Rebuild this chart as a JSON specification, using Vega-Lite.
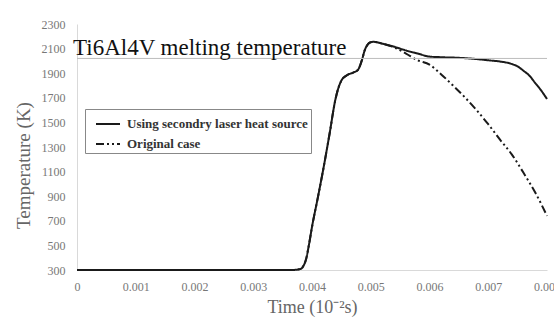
{
  "$schema": "https://vega.github.io/schema/vega-lite/v6.json",
  "autosize": "none",
  "width": 470,
  "height": 246,
  "padding": {"left": 77, "top": 24, "right": 7, "bottom": 56},
  "background": "white",
  "config": {
    "view": {"stroke": null},
    "font": "Liberation Serif",
    "axis": {"labelFont": "Liberation Serif", "titleFont": "Liberation Serif", "grid": false, "ticks": false, "domainColor": "#d9d9d9", "labelColor": "#777", "titleColor": "#666", "titleFontWeight": "normal", "labelOverlap": false, "labelSeparation": 0, "labelBound": false}
  },
  "datasets": {
    "curves": [
      {"t": 0, "temp": 300, "case": "Using secondry laser heat source"},
      {"t": 0.0036, "temp": 300, "case": "Using secondry laser heat source"},
      {"t": 0.0037, "temp": 301, "case": "Using secondry laser heat source"},
      {"t": 0.0038, "temp": 308, "case": "Using secondry laser heat source"},
      {"t": 0.00385, "temp": 330, "case": "Using secondry laser heat source"},
      {"t": 0.0039, "temp": 390, "case": "Using secondry laser heat source"},
      {"t": 0.00395, "temp": 510, "case": "Using secondry laser heat source"},
      {"t": 0.004, "temp": 650, "case": "Using secondry laser heat source"},
      {"t": 0.0041, "temp": 890, "case": "Using secondry laser heat source"},
      {"t": 0.0042, "temp": 1140, "case": "Using secondry laser heat source"},
      {"t": 0.0043, "temp": 1410, "case": "Using secondry laser heat source"},
      {"t": 0.0044, "temp": 1690, "case": "Using secondry laser heat source"},
      {"t": 0.0045, "temp": 1840, "case": "Using secondry laser heat source"},
      {"t": 0.0046, "temp": 1885, "case": "Using secondry laser heat source"},
      {"t": 0.0047, "temp": 1905, "case": "Using secondry laser heat source"},
      {"t": 0.00478, "temp": 1926, "case": "Using secondry laser heat source"},
      {"t": 0.00485, "temp": 2007, "case": "Using secondry laser heat source"},
      {"t": 0.0049, "temp": 2090, "case": "Using secondry laser heat source"},
      {"t": 0.005, "temp": 2152, "case": "Using secondry laser heat source"},
      {"t": 0.00505, "temp": 2155, "case": "Using secondry laser heat source"},
      {"t": 0.0052, "temp": 2140, "case": "Using secondry laser heat source"},
      {"t": 0.0054, "temp": 2115, "case": "Using secondry laser heat source"},
      {"t": 0.0056, "temp": 2085, "case": "Using secondry laser heat source"},
      {"t": 0.0058, "temp": 2060, "case": "Using secondry laser heat source"},
      {"t": 0.006, "temp": 2035, "case": "Using secondry laser heat source"},
      {"t": 0.0062, "temp": 2030, "case": "Using secondry laser heat source"},
      {"t": 0.0065, "temp": 2025, "case": "Using secondry laser heat source"},
      {"t": 0.0068, "temp": 2015, "case": "Using secondry laser heat source"},
      {"t": 0.007, "temp": 2005, "case": "Using secondry laser heat source"},
      {"t": 0.0072, "temp": 1995, "case": "Using secondry laser heat source"},
      {"t": 0.0074, "temp": 1975, "case": "Using secondry laser heat source"},
      {"t": 0.0075, "temp": 1955, "case": "Using secondry laser heat source"},
      {"t": 0.0076, "temp": 1920, "case": "Using secondry laser heat source"},
      {"t": 0.0077, "temp": 1880, "case": "Using secondry laser heat source"},
      {"t": 0.0078, "temp": 1820, "case": "Using secondry laser heat source"},
      {"t": 0.0079, "temp": 1760, "case": "Using secondry laser heat source"},
      {"t": 0.008, "temp": 1690, "case": "Using secondry laser heat source"},
      {"t": 0, "temp": 300, "case": "Original case"},
      {"t": 0.0036, "temp": 300, "case": "Original case"},
      {"t": 0.0037, "temp": 301, "case": "Original case"},
      {"t": 0.0038, "temp": 308, "case": "Original case"},
      {"t": 0.00385, "temp": 330, "case": "Original case"},
      {"t": 0.0039, "temp": 390, "case": "Original case"},
      {"t": 0.00395, "temp": 510, "case": "Original case"},
      {"t": 0.004, "temp": 650, "case": "Original case"},
      {"t": 0.0041, "temp": 890, "case": "Original case"},
      {"t": 0.0042, "temp": 1140, "case": "Original case"},
      {"t": 0.0043, "temp": 1410, "case": "Original case"},
      {"t": 0.0044, "temp": 1690, "case": "Original case"},
      {"t": 0.0045, "temp": 1840, "case": "Original case"},
      {"t": 0.0046, "temp": 1885, "case": "Original case"},
      {"t": 0.0047, "temp": 1905, "case": "Original case"},
      {"t": 0.00478, "temp": 1926, "case": "Original case"},
      {"t": 0.00485, "temp": 2007, "case": "Original case"},
      {"t": 0.0049, "temp": 2090, "case": "Original case"},
      {"t": 0.005, "temp": 2152, "case": "Original case"},
      {"t": 0.00505, "temp": 2155, "case": "Original case"},
      {"t": 0.0052, "temp": 2140, "case": "Original case"},
      {"t": 0.0054, "temp": 2110, "case": "Original case"},
      {"t": 0.0056, "temp": 2060, "case": "Original case"},
      {"t": 0.0058, "temp": 2005, "case": "Original case"},
      {"t": 0.006, "temp": 1970, "case": "Original case"},
      {"t": 0.0062, "temp": 1890, "case": "Original case"},
      {"t": 0.0064, "temp": 1800, "case": "Original case"},
      {"t": 0.0066, "temp": 1705, "case": "Original case"},
      {"t": 0.0068, "temp": 1600, "case": "Original case"},
      {"t": 0.007, "temp": 1485, "case": "Original case"},
      {"t": 0.0072, "temp": 1360, "case": "Original case"},
      {"t": 0.0074, "temp": 1240, "case": "Original case"},
      {"t": 0.0076, "temp": 1090, "case": "Original case"},
      {"t": 0.0078, "temp": 930, "case": "Original case"},
      {"t": 0.008, "temp": 740, "case": "Original case"}
    ],
    "melt": [{"t": 0, "temp": 2020, "label": "Ti6Al4V melting temperature"}]
  },
  "layer": [
    {
      "data": {"name": "curves"},
      "mark": {"type": "line", "color": "#1a1a1a", "strokeWidth": 2, "interpolate": "monotone"},
      "encoding": {
        "x": {"field": "t", "type": "quantitative", "title": "Time (10⁻²s)",
          "scale": {"domain": [0, 0.008], "nice": false},
          "axis": {"values": [0, 0.001, 0.002, 0.003, 0.004, 0.005, 0.006, 0.007, 0.008], "format": ".3~f", "labelFontSize": 12, "labelPadding": 11, "titleFontSize": 18, "titlePadding": 6, "labelFlush": false, "labelOverlap": false}},
        "y": {"field": "temp", "type": "quantitative", "title": "Temperature (K)",
          "scale": {"domain": [300, 2300], "nice": false},
          "axis": {"values": [300, 500, 700, 900, 1100, 1300, 1500, 1700, 1900, 2100, 2300], "format": "d", "labelFontSize": 12, "labelPadding": 12, "titleFontSize": 19, "titlePadding": 8, "titleY": 141, "labelOverlap": false, "labelFlush": false}},
        "strokeDash": {"field": "case", "type": "nominal", "sort": ["Using secondry laser heat source", "Original case"],
          "scale": {"domain": ["Using secondry laser heat source", "Original case"], "range": [[1, 0], [8, 3, 2, 3, 2, 3]]},
          "legend": {"title": null, "orient": "none", "legendX": 8, "legendY": 85, "strokeColor": "#888", "fillColor": "white", "padding": 2, "labelFont": "Liberation Serif", "labelFontWeight": "bold", "labelFontSize": 13, "labelColor": "#333", "labelLimit": 400, "symbolType": "stroke", "symbolSize": 576, "symbolStrokeWidth": 2, "symbolStrokeColor": "#1a1a1a", "rowPadding": 0, "labelOffset": 6, "symbolOffset": 8}}
      }
    },
    {
      "data": {"name": "melt"},
      "mark": {"type": "rule", "color": "#bdbdbd", "strokeWidth": 1},
      "encoding": {"y": {"field": "temp", "type": "quantitative", "axis": {"labelOverlap": false, "values": [300, 500, 700, 900, 1100, 1300, 1500, 1700, 1900, 2100, 2300]}}}
    },
    {
      "data": {"name": "melt"},
      "mark": {"type": "text", "align": "left", "baseline": "alphabetic", "dx": -4, "dy": -3, "font": "Liberation Serif", "fontSize": 23, "color": "#111"},
      "encoding": {
        "x": {"field": "t", "type": "quantitative", "axis": {"labelOverlap": false, "values": [0, 0.001, 0.002, 0.003, 0.004, 0.005, 0.006, 0.007, 0.008]}},
        "y": {"field": "temp", "type": "quantitative", "axis": {"labelOverlap": false, "values": [300, 500, 700, 900, 1100, 1300, 1500, 1700, 1900, 2100, 2300]}},
        "text": {"field": "label"}
      }
    }
  ]
}
